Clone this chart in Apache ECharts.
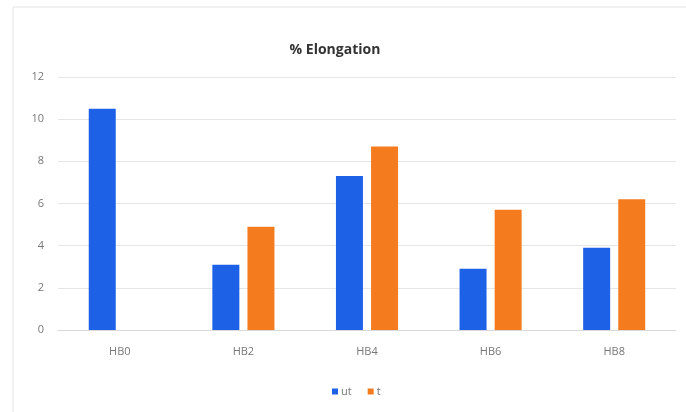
<!DOCTYPE html>
<html>
<head>
<meta charset="utf-8">
<script src="https://cdn.jsdelivr.net/npm/echarts@6/dist/echarts.min.js"></script>
<style>
  html, body { margin: 0; padding: 0; background: #fff; }
  #chart { width: 686px; height: 412px; }
</style>
</head>
<body>
<div id="chart"></div>
<script>
// Sample groups and elongation (%) for each treatment
const categories = ['HB0', 'HB2', 'HB4', 'HB6', 'HB8'];
const utValues = [10.5, 3.1, 7.3, 2.9, 3.9];
const tValues = [null, 4.9, 8.7, 5.7, 6.2];
const yTicks = { min: 0, max: 12, interval: 2 };

const chart = echarts.init(document.getElementById('chart'));
chart.setOption({
  animation: false,
  backgroundColor: '#ffffff',
  graphic: [{
    type: 'rect',
    shape: { x: 13, y: 7, width: 690, height: 420 },
    style: { fill: 'none', stroke: '#e2e2e2', lineWidth: 1 },
    silent: true
  }],
  title: {
    text: '% Elongation',
    left: 330,
    textAlign: 'center',
    top: 38,
    textStyle: { fontFamily: 'Open Sans', fontSize: 14, fontWeight: 'bold', color: '#333' }
  },
  legend: {
    top: 381,
    left: 327,
    itemWidth: 6,
    itemHeight: 6,
    itemGap: 16,
    icon: 'rect',
    textStyle: { fontFamily: 'Open Sans', fontSize: 11, color: '#777', padding: [0, 0, 0, -2] },
    data: ['ut', 't']
  },
  grid: { left: 58, right: 10, top: 77, bottom: 82 },
  xAxis: {
    type: 'category',
    data: categories,
    axisLine: { lineStyle: { color: '#d9d9d9' } },
    axisTick: { show: false },
    axisLabel: { fontFamily: 'Open Sans', fontSize: 11, color: '#777', margin: 16 }
  },
  yAxis: {
    type: 'value',
    min: yTicks.min,
    max: yTicks.max,
    interval: yTicks.interval,
    axisLine: { show: false },
    axisTick: { show: false },
    splitLine: { lineStyle: { color: '#e6e6e6' } },
    axisLabel: { fontFamily: 'Open Sans', fontSize: 11, color: '#777', margin: 14 }
  },
  series: [
    {
      name: 'ut', type: 'bar', data: utValues,
      barWidth: 27, barGap: '30%',
      itemStyle: { color: '#1d61e6' }
    },
    {
      name: 't', type: 'bar', data: tValues,
      barWidth: 27,
      itemStyle: { color: '#f57b1f' }
    }
  ]
});
</script>
</body>
</html>
